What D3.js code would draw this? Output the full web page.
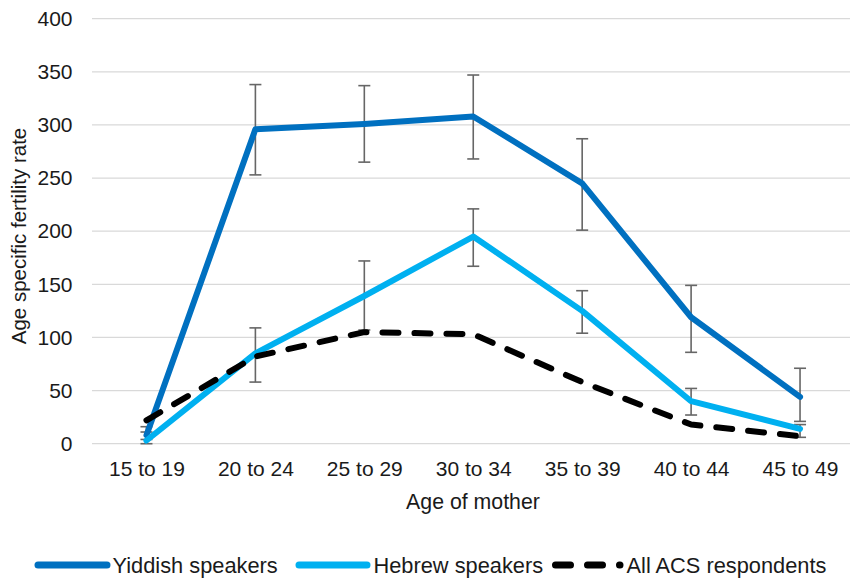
<!DOCTYPE html>
<html>
<head>
<meta charset="utf-8">
<script src="https://cdn.jsdelivr.net/npm/d3@7"></script>
<style>
  html, body { margin: 0; padding: 0; background: #fff; }
  svg { display: block; font-family: "Liberation Sans", Arial, sans-serif; }
</style>
</head>
<body>
<svg id="chart" width="850" height="578"></svg>
<script>
// Age groups of mothers
const ages = ["15 to 19", "20 to 24", "25 to 29", "30 to 34", "35 to 39", "40 to 44", "45 to 49"];

// Age specific fertility rates (births per 1,000 women)
const yiddish     = [8, 296, 301, 308, 245, 119, 44];
const yiddishLow  = [4, 253, 265, 268, 201, 86, 21];
const yiddishHigh = [16, 338, 337, 347, 287, 149, 71];

const hebrew      = [3, 85, 139, 195, 125, 40, 14];
const hebrewLow   = [0, 58, 107, 167, 104, 27, 6];
const hebrewHigh  = [11, 109, 172, 221, 144, 52, 18];

const acs         = [22, 82, 105, 103, 58, 18, 7];

const yTicks = [0, 50, 100, 150, 200, 250, 300, 350, 400];

const seriesNames = ["Yiddish speakers", "Hebrew speakers", "All ACS respondents"];
const colors = ["#0070C0", "#00B0F0", "#000000"];

const svg = d3.select("#chart");

const x = d3.scalePoint().domain(ages).range([92, 854.5]).padding(0.5);
const y = d3.scaleLinear().domain([0, 400]).range([443.7, 18.7]);

// Horizontal gridlines
svg.append("g")
  .selectAll("line")
  .data(yTicks)
  .join("line")
  .attr("x1", 92).attr("x2", 850)
  .attr("y1", d => y(d)).attr("y2", d => y(d))
  .attr("stroke", "#D9D9D9")
  .attr("stroke-width", 1.3);

// Y axis labels
const yAxis = d3.axisLeft(y).tickValues(yTicks).tickSize(0).tickPadding(0);
svg.append("g")
  .attr("transform", "translate(72.5,0)")
  .call(yAxis)
  .call(g => g.select(".domain").remove())
  .call(g => g.selectAll("text")
    .attr("font-size", 21)
    .attr("fill", "#1a1a1a")
    .attr("font-family", "'Liberation Sans', Arial, sans-serif"));

// X axis labels
const xAxis = d3.axisBottom(x).tickSize(0).tickPadding(0);
svg.append("g")
  .attr("transform", "translate(0,461)")
  .call(xAxis)
  .call(g => g.select(".domain").remove())
  .call(g => g.selectAll("text")
    .attr("font-size", 21)
    .attr("fill", "#1a1a1a")
    .attr("dy", "0.71em")
    .attr("font-family", "'Liberation Sans', Arial, sans-serif"));

// Axis titles
svg.append("text")
  .attr("x", 473).attr("y", 508.5)
  .attr("text-anchor", "middle")
  .attr("font-size", 21.3)
  .attr("fill", "#1a1a1a")
  .text("Age of mother");

svg.append("text")
  .attr("transform", "translate(25.5,236) rotate(-90)")
  .attr("text-anchor", "middle")
  .attr("font-size", 20.5)
  .attr("fill", "#1a1a1a")
  .text("Age specific fertility rate");

// Error bars
function errorBars(lo, hi) {
  const g = svg.append("g").attr("stroke", "#666666").attr("stroke-width", 1.6).attr("fill", "none");
  ages.forEach((a, i) => {
    const cx = x(a);
    g.append("line").attr("x1", cx).attr("x2", cx).attr("y1", y(lo[i])).attr("y2", y(hi[i]));
    g.append("line").attr("x1", cx - 6).attr("x2", cx + 6).attr("y1", y(lo[i])).attr("y2", y(lo[i]));
    g.append("line").attr("x1", cx - 6).attr("x2", cx + 6).attr("y1", y(hi[i])).attr("y2", y(hi[i]));
  });
}
errorBars(yiddishLow, yiddishHigh);
errorBars(hebrewLow, hebrewHigh);

// Series lines
const line = d3.line().x((d, i) => x(ages[i])).y(d => y(d));
const seriesData = [yiddish, hebrew, acs];
seriesData.forEach((vals, k) => {
  svg.append("path")
    .datum(vals)
    .attr("d", line)
    .attr("fill", "none")
    .attr("stroke", colors[k])
    .attr("stroke-width", 6)
    .attr("stroke-linejoin", "round")
    .attr("stroke-linecap", "round")
    .attr("stroke-dasharray", k === 2 ? "16,16" : null);
});

// Legend
const legendItems = [
  { x1: 38, x2: 107, tx: 112.5 },
  { x1: 299, x2: 367, tx: 373.5 },
  { x1: 555.5, x2: 620, tx: 626.5 }
];
const legend = svg.append("g");
legendItems.forEach((it, k) => {
  legend.append("line")
    .attr("x1", it.x1).attr("x2", it.x2)
    .attr("y1", 565).attr("y2", 565)
    .attr("stroke", colors[k])
    .attr("stroke-width", 7)
    .attr("stroke-linecap", "round")
    .attr("stroke-dasharray", k === 2 ? "15,17" : null);
  legend.append("text")
    .attr("x", it.tx).attr("y", 572.5)
    .attr("font-size", 21.8)
    .attr("fill", "#1a1a1a")
    .text(seriesNames[k]);
});
</script>
</body>
</html>
